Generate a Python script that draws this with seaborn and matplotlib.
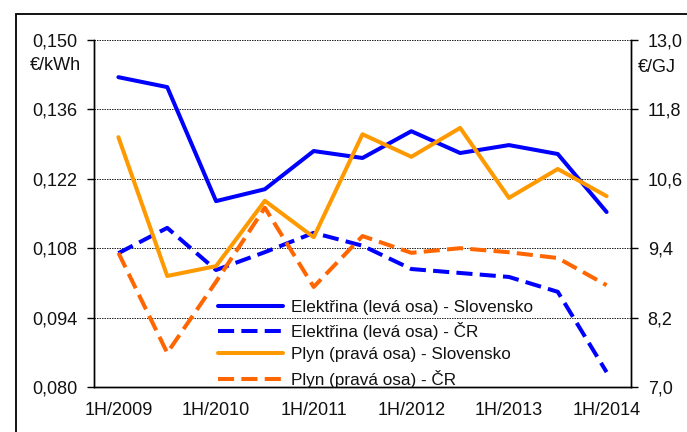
"""
Ceny elektřiny a plynu - Slovensko vs ČR (pololetí 2009-2014).
"""

import matplotlib
matplotlib.use("Agg")
import matplotlib.pyplot as plt
from matplotlib.patches import Rectangle
from matplotlib.ticker import FuncFormatter
import numpy as np
import seaborn as sns

periods = ["1H/2009", "2H/2009", "1H/2010", "2H/2010", "1H/2011", "2H/2011",
           "1H/2012", "2H/2012", "1H/2013", "2H/2013", "1H/2014"]

# Elektřina, €/kWh (levá osa)
elek_sk = [0.1425, 0.1405, 0.1175, 0.1199, 0.1276, 0.1262,
           0.1316, 0.1272, 0.1288, 0.1270, 0.1153]
elek_cr = [0.1070, 0.1121, 0.1036, 0.1072, 0.1111, 0.1085,
           0.1038, 0.1030, 0.1022, 0.0992, 0.0830]

# Plyn, €/GJ (pravá osa)
plyn_sk = [11.32, 8.92, 9.09, 10.22, 9.59, 11.37,
           10.98, 11.48, 10.27, 10.77, 10.30]
plyn_cr = [9.32, 7.59, 8.82, 10.10, 8.73, 9.61,
           9.32, 9.40, 9.33, 9.23, 8.76]

labels = ["Elektřina (levá osa) - Slovensko", "Elektřina (levá osa) - ČR",
          "Plyn (pravá osa) - Slovensko", "Plyn (pravá osa) - ČR"]

sns.set_theme(style="white")
plt.rcParams["font.family"] = ["Liberation Sans", "DejaVu Sans"]

W, H = 687, 432
fig = plt.figure(figsize=(W / 100, H / 100), dpi=100)
ax = fig.add_axes([94 / W, 1 - 387 / H, (631 - 94) / W, (387 - 40) / H])
ax2 = ax.twinx()

x = np.arange(len(periods))
lw = 2.9
dash = (0, (4, 1.8))

sns.lineplot(x=x, y=elek_sk, ax=ax, color="#0000FF", lw=lw, label=labels[0], legend=False)
sns.lineplot(x=x, y=elek_cr, ax=ax, color="#0000FF", lw=lw, ls=dash, label=labels[1], legend=False)
sns.lineplot(x=x, y=plyn_sk, ax=ax2, color="#FF9900", lw=lw, label=labels[2], legend=False)
sns.lineplot(x=x, y=plyn_cr, ax=ax2, color="#FF6600", lw=lw, ls=dash, label=labels[3], legend=False)

# osy
ax.set_xlim(-0.5, len(periods) - 0.5)
ax.set_ylim(0.080, 0.150)
ax2.set_ylim(7.0, 13.0)
ax.set_yticks(np.linspace(0.080, 0.150, 6))
ax2.set_yticks(np.linspace(7.0, 13.0, 6))
ax.yaxis.set_major_formatter(FuncFormatter(lambda v, p: f"{v:.3f}".replace(".", ",")))
ax2.yaxis.set_major_formatter(FuncFormatter(lambda v, p: f"{v:.1f}".replace(".", ",")))

fs = 13
ax.set_xticks(x[::2])
ax.set_xticklabels(periods[::2])
ax.set_xticks(np.arange(-0.5, len(periods)), minor=True)
ax.tick_params(axis="x", which="major", length=0, pad=11, labelsize=fs, colors="#111111")
ax.tick_params(axis="x", which="minor", length=6, width=1, color="black", direction="out")
ax.tick_params(axis="y", length=5, width=1, color="black", direction="out", pad=7,
               labelsize=fs, labelcolor="#111111")
ax2.tick_params(axis="y", length=5, width=1, color="black", direction="out", pad=7,
                labelsize=fs, labelcolor="#111111")
ax.set_xlabel("")
ax.set_ylabel("")
ax2.set_ylabel("")

ax.yaxis.grid(True, color="black", ls=(0, (1.8, 1.2)), lw=0.6)
ax.xaxis.grid(False)
ax2.grid(False)

for a in (ax, ax2):
    a.spines["top"].set_visible(False)
    for s in ("left", "right", "bottom"):
        a.spines[s].set_color("black")
        a.spines[s].set_linewidth(1)

# jednotky
fig.text(30 / W, 1 - 66 / H, "€/kWh", fontsize=fs, va="center", ha="left", color="#111111")
fig.text(638 / W, 1 - 67 / H, "€/GJ", fontsize=fs, va="center", ha="left", color="#111111")

# legenda
handles = ax.get_lines()[:2] + ax2.get_lines()[:2]
leg = ax2.legend(handles, labels, loc="upper left", bbox_to_anchor=(218 / W, 1 - 300 / H),
                 bbox_transform=fig.transFigure, frameon=False, fontsize=12.3,
                 handlelength=3.8, handletextpad=0.45, labelspacing=0.42,
                 borderpad=0, borderaxespad=0)
for t in leg.get_texts():
    t.set_color("#111111")

# rámeček kolem grafu
fig.add_artist(Rectangle((16 / W, -0.1), 1.0, 1.1 - 14 / H, transform=fig.transFigure,
                         fill=False, lw=1.3, ec="black"))

fig.savefig("out.png", dpi=100)
